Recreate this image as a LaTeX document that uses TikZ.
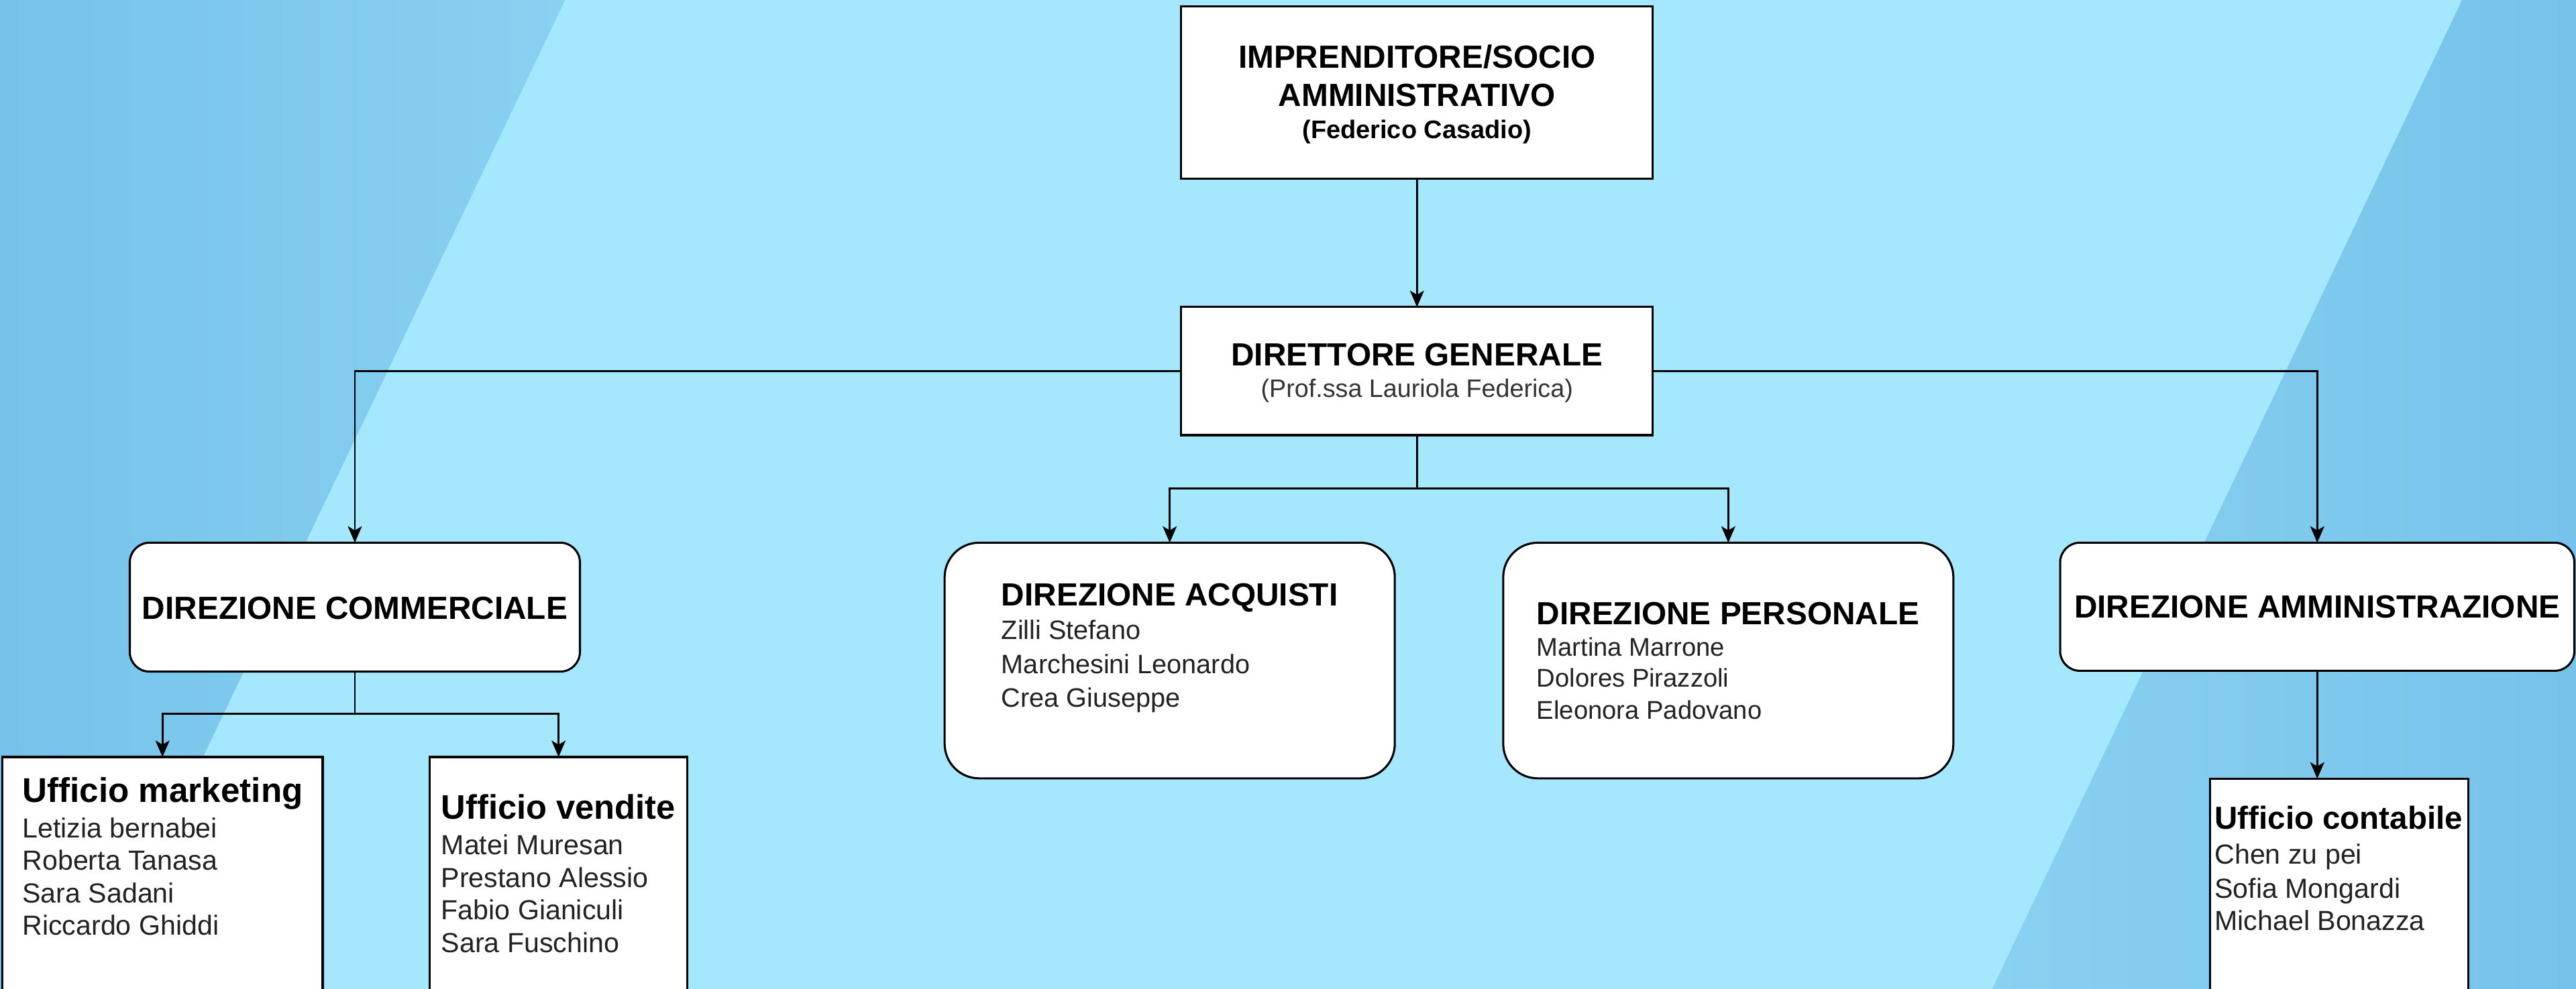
\documentclass[tikz,border=0pt]{standalone}
\usepackage{fontspec}
\setmainfont{Liberation Sans}[Ligatures={NoCommon}]
\usetikzlibrary{arrows.meta,calc}
\definecolor{bglight}{HTML}{A5E8FD}
\definecolor{bgdark}{HTML}{76C2EA}
\definecolor{bgmid}{HTML}{89D1F1}
\definecolor{nametext}{HTML}{222222}
\definecolor{subtext}{HTML}{333333}
\tikzset{
  box/.style={draw=black, line width=1.25pt, fill=white, inner sep=0pt, outer sep=0pt, anchor=north west},
  rbox/.style={box, rounded corners=12pt},
  rrbox/.style={box, rounded corners=21pt},
  conn/.style={line width=1.2pt, draw=black},
  arr/.style={conn, -{Stealth[length=10pt,width=8.5pt,inset=2.5pt]}},
  ttl/.style={inner sep=0pt, anchor=base, font=\bfseries\fontsize{19.5}{22}\selectfont},
  ttlw/.style={inner sep=0pt, anchor=base west, font=\bfseries\fontsize{19.5}{22}\selectfont},
  sub/.style={inner sep=0pt, anchor=base, text=subtext, font=\fontsize{15.4}{18}\selectfont},
  subb/.style={inner sep=0pt, anchor=base, font=\bfseries\fontsize{15.5}{18}\selectfont},
  uff/.style={inner sep=0pt, anchor=base west, font=\bfseries\fontsize{20.7}{24}\selectfont},
  nm/.style={inner sep=0pt, anchor=base west, text=nametext, font=\fontsize{16.8}{20}\selectfont},
  nms/.style={inner sep=0pt, anchor=base west, text=nametext, font=\fontsize{16.2}{20}\selectfont},
  nmp/.style={inner sep=0pt, anchor=base west, text=nametext, font=\fontsize{15.6}{19}\selectfont},
}
\begin{document}
\begin{tikzpicture}[x=1pt,y=-1pt]
\useasboundingbox (0,0) rectangle (1568,602.29);
\clip (0,0) rectangle (1568,602.29);
% background
\fill[bglight] (0,0) rectangle (1568,602.29);
\shade[left color=bgdark, right color=bgmid] (0,0) -- (344,0) -- (56,602.29) -- (0,602.29) -- cycle;
\shade[left color=bgmid, right color=bgdark] (1498.6,0) -- (1568,0) -- (1568,602.29) -- (1212.6,602.29) -- cycle;

% boxes
\node[box, minimum width=287pt, minimum height=105pt] (top) at (719,4) {};
\node[box, minimum width=287pt, minimum height=78pt] (dg) at (719,187) {};
\node[rbox, minimum width=274pt, minimum height=78.5pt] (com) at (79,330.5) {};
\node[rrbox, minimum width=274pt, minimum height=143.5pt] (acq) at (575,330.5) {};
\node[rrbox, minimum width=274pt, minimum height=143.5pt] (per) at (915,330.5) {};
\node[rbox, minimum width=313pt, minimum height=78pt] (amm) at (1254,330.5) {};
\node[box, minimum width=195pt, minimum height=200pt] (mkt) at (1.4,461) {};
\node[box, minimum width=157pt, minimum height=200pt] (ven) at (261.5,461) {};
\node[box, minimum width=157pt, minimum height=200pt] (cont) at (1345.3,474.2) {};

% connectors
\coordinate (j1) at (862.5,297.5);
\coordinate (j2) at (216,434.6);
\draw[arr] (top.south) -- (dg.north);
\draw[arr] (dg.west) -| (com.north);
\draw[arr] (dg.east) -| (amm.north);
\draw[conn] (dg.south) -- (j1);
\draw[arr] (j1) -| (acq.north);
\draw[arr] (j1) -| (per.north);
\draw[conn] (com.south) -- (j2);
\draw[arr] (j2) -| (mkt.north);
\draw[arr] (j2) -| (ven.north);
\draw[arr] (amm.south) -- (amm.south |- cont.north);

% texts
\node[ttl] (t1) at (862.5,41.6) {IMPRENDITORE/SOCIO};
\node[ttl] (t2) at (862.5,64.7) {AMMINISTRATIVO};
\node[subb] (t3) at (862.5,84.2) {(Federico Casadio)};
\node[ttl] (d1) at (862.5,222.7) {DIRETTORE GENERALE};
\node[sub] (d2) at (862.5,242.1) {(Prof.ssa Lauriola Federica)};
\node[ttl] (c1) at (216,377) {DIREZIONE COMMERCIALE};
\node[ttl] (a1) at (1410.5,376.4) {DIREZIONE AMMINISTRAZIONE};

\node[ttlw] (q0) at (609.4,368.9) {DIREZIONE ACQUISTI};
\node[nms] (q1) at (609.4,389.5) {Zilli Stefano};
\node[nms] (q2) at (609.4,410.2) {Marchesini Leonardo};
\node[nms] (q3) at (609.4,430.5) {Crea Giuseppe};

\node[ttlw] (p0) at (935.2,380.4) {DIREZIONE PERSONALE};
\node[nmp] (p1) at (935.2,399.6) {Martina Marrone};
\node[nmp] (p2) at (935.2,418.4) {Dolores Pirazzoli};
\node[nmp] (p3) at (935.2,437.8) {Eleonora Padovano};

\node[uff, font=\bfseries\fontsize{20.9}{24}\selectfont] (m0) at (13.5,488.4) {Ufficio marketing};
\node[nm] (m1) at (13.5,510.2) {Letizia bernabei};
\node[nm] (m2) at (13.5,530) {Roberta Tanasa};
\node[nm] (m3) at (13.5,549.8) {Sara Sadani};
\node[nm] (m4) at (13.5,569.6) {Riccardo Ghiddi};

\node[uff] (v0) at (268.4,498.8) {Ufficio vendite};
\node[nm] (v1) at (268.4,520.5) {Matei Muresan};
\node[nm] (v2) at (268.4,540.4) {Prestano Alessio};
\node[nm] (v3) at (268.4,560.2) {Fabio Gianiculi};
\node[nm] (v4) at (268.4,580) {Sara Fuschino};

\node[uff, font=\bfseries\fontsize{19.4}{23}\selectfont] (k0) at (1347.9,504.9) {Ufficio contabile};
\node[nm] (k1) at (1347.9,526.3) {Chen zu pei};
\node[nm] (k2) at (1347.9,546.9) {Sofia Mongardi};
\node[nm] (k3) at (1347.9,566.4) {Michael Bonazza};
\end{tikzpicture}
\end{document}
